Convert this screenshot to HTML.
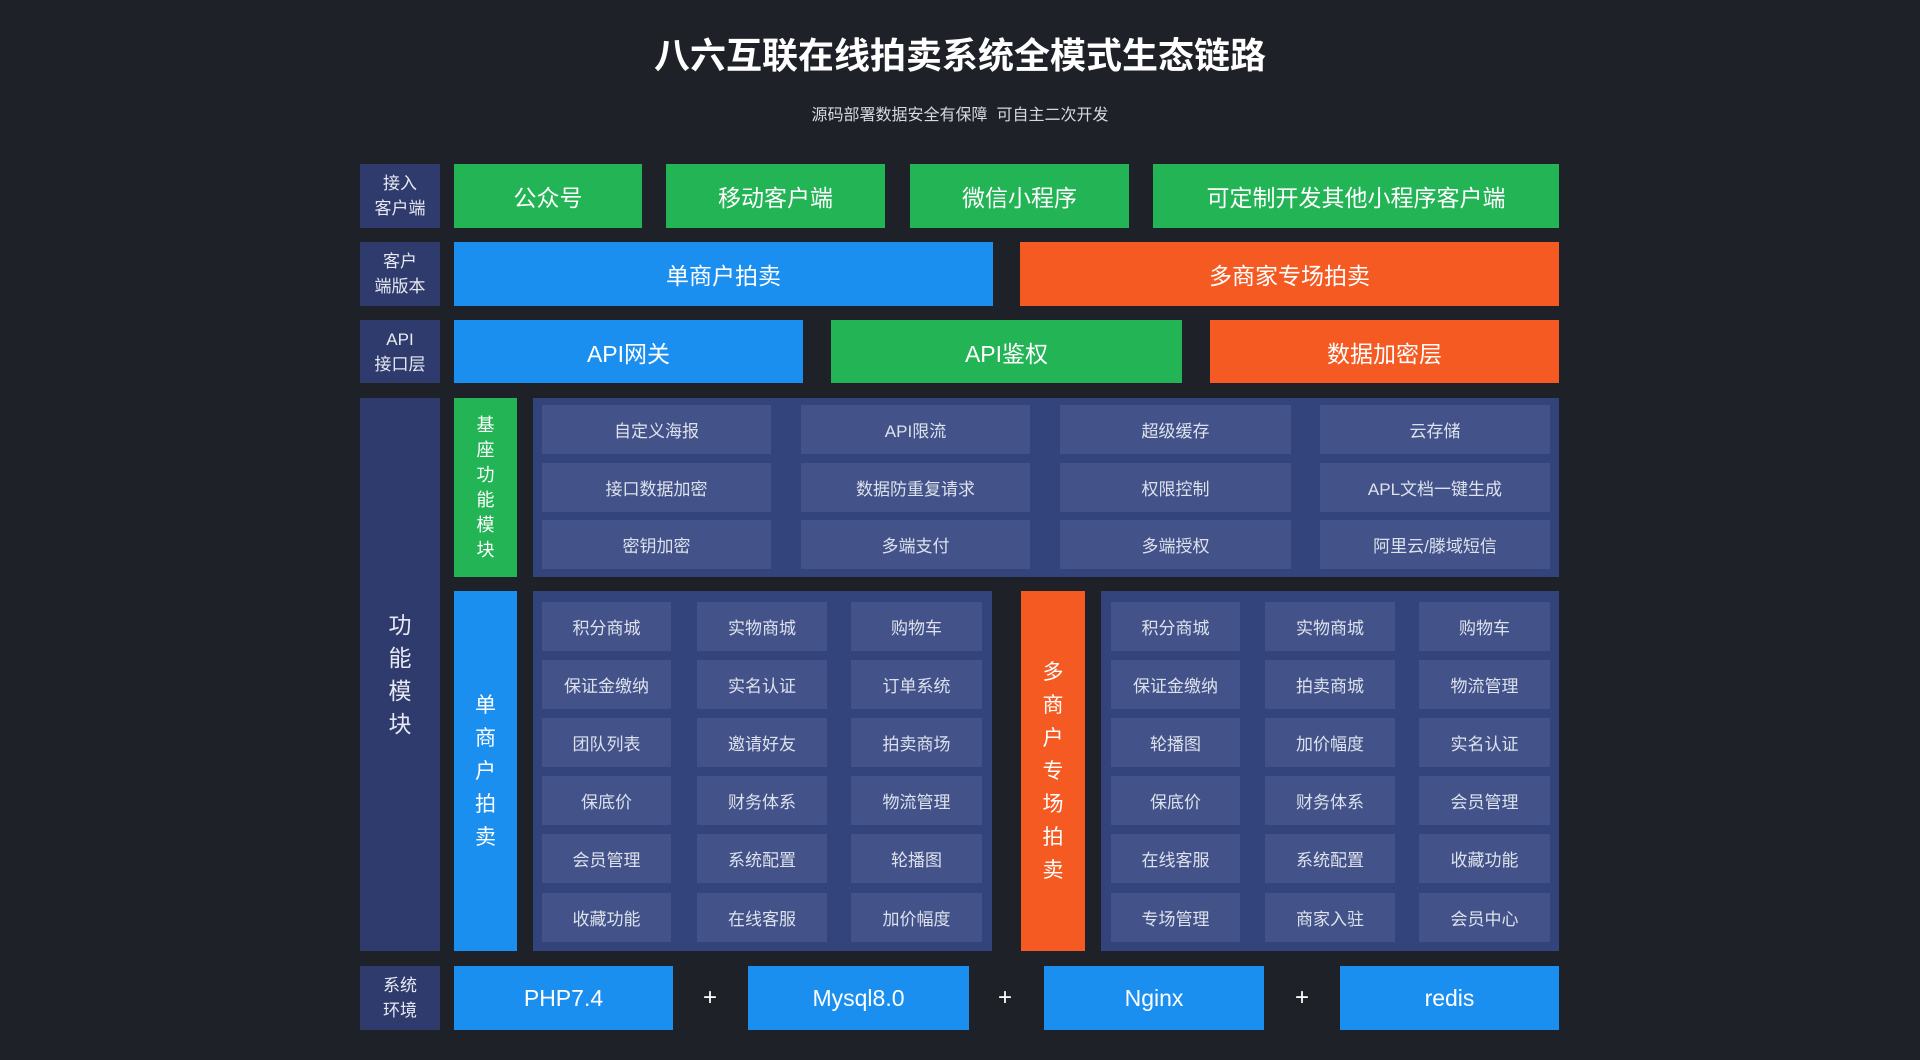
<!DOCTYPE html>
<html><head><meta charset="utf-8"><style>
body{margin:0;width:1920px;height:1060px;background:#1f2128;font-family:"Liberation Sans","Noto Sans CJK SC",sans-serif;position:relative;overflow:hidden}
.a{position:absolute;display:flex;align-items:center;justify-content:center;text-align:center;color:#fff;box-sizing:border-box}
.lb{background:#2e3b6c;color:#e6e9f2;font-size:17px;line-height:25px}
.g{background:#22b455;font-size:23px}
.b{background:#1a8ff0;font-size:23px}
.o{background:#f55a22;font-size:23px}
.p{background:#33437c}
.c{background:#43538a;color:#dde1ec;font-size:17px}
.v{font-size:21px;line-height:33px;flex-direction:column}
.plus{color:#fff;font-size:24px}
</style></head><body>
<div class="a" style="left:0;top:30px;width:1920px;height:46px;font-size:36px;font-weight:bold">八六互联在线拍卖系统全模式生态链路</div>
<div class="a" style="left:0;top:102px;width:1920px;height:22px;font-size:16px;color:#d6d9e0">源码部署数据安全有保障&nbsp;&nbsp;可自主二次开发</div>

<div class="a lb" style="left:360px;top:164px;width:80px;height:64px">接入<br>客户端</div>
<div class="a lb" style="left:360px;top:242px;width:80px;height:64px">客户<br>端版本</div>
<div class="a lb" style="left:360px;top:320px;width:80px;height:63px">API<br>接口层</div>
<div class="a lb" style="left:360px;top:398px;width:80px;height:553px;font-size:23px;line-height:33px">功<br>能<br>模<br>块</div>
<div class="a lb" style="left:360px;top:966px;width:80px;height:64px">系统<br>环境</div>

<div class="a g" style="left:454px;top:164px;width:188px;height:64px">公众号</div>
<div class="a g" style="left:666px;top:164px;width:219px;height:64px">移动客户端</div>
<div class="a g" style="left:910px;top:164px;width:219px;height:64px">微信小程序</div>
<div class="a g" style="left:1153px;top:164px;width:406px;height:64px">可定制开发其他小程序客户端</div>

<div class="a b" style="left:454px;top:242px;width:539px;height:64px">单商户拍卖</div>
<div class="a o" style="left:1020px;top:242px;width:539px;height:64px">多商家专场拍卖</div>

<div class="a b" style="left:454px;top:320px;width:349px;height:63px">API网关</div>
<div class="a g" style="left:831px;top:320px;width:351px;height:63px">API鉴权</div>
<div class="a o" style="left:1210px;top:320px;width:349px;height:63px">数据加密层</div>

<div class="a g v" style="left:454px;top:398px;width:63px;height:179px;font-size:18px;line-height:25px">基<br>座<br>功<br>能<br>模<br>块</div>
<div class="a p" style="left:533px;top:398px;width:1026px;height:179px"></div>
<div class="a c" style="left:542px;top:405px;width:229px;height:49px">自定义海报</div>
<div class="a c" style="left:801px;top:405px;width:229px;height:49px">API限流</div>
<div class="a c" style="left:1060px;top:405px;width:231px;height:49px">超级缓存</div>
<div class="a c" style="left:1320px;top:405px;width:230px;height:49px">云存储</div>
<div class="a c" style="left:542px;top:463px;width:229px;height:49px">接口数据加密</div>
<div class="a c" style="left:801px;top:463px;width:229px;height:49px">数据防重复请求</div>
<div class="a c" style="left:1060px;top:463px;width:231px;height:49px">权限控制</div>
<div class="a c" style="left:1320px;top:463px;width:230px;height:49px">APL文档一键生成</div>
<div class="a c" style="left:542px;top:520px;width:229px;height:49px">密钥加密</div>
<div class="a c" style="left:801px;top:520px;width:229px;height:49px">多端支付</div>
<div class="a c" style="left:1060px;top:520px;width:231px;height:49px">多端授权</div>
<div class="a c" style="left:1320px;top:520px;width:230px;height:49px">阿里云/滕域短信</div>

<div class="a b v" style="left:454px;top:591px;width:63px;height:360px">单<br>商<br>户<br>拍<br>卖</div>
<div class="a p" style="left:533px;top:591px;width:459px;height:360px"></div>
<div class="a o v" style="left:1021px;top:591px;width:64px;height:360px">多<br>商<br>户<br>专<br>场<br>拍<br>卖</div>
<div class="a p" style="left:1101px;top:591px;width:458px;height:360px"></div>

<div class="a c" style="left:542px;top:602px;width:129px;height:49px">积分商城</div>
<div class="a c" style="left:697px;top:602px;width:130px;height:49px">实物商城</div>
<div class="a c" style="left:851px;top:602px;width:131px;height:49px">购物车</div>
<div class="a c" style="left:542px;top:660px;width:129px;height:49px">保证金缴纳</div>
<div class="a c" style="left:697px;top:660px;width:130px;height:49px">实名认证</div>
<div class="a c" style="left:851px;top:660px;width:131px;height:49px">订单系统</div>
<div class="a c" style="left:542px;top:718px;width:129px;height:49px">团队列表</div>
<div class="a c" style="left:697px;top:718px;width:130px;height:49px">邀请好友</div>
<div class="a c" style="left:851px;top:718px;width:131px;height:49px">拍卖商场</div>
<div class="a c" style="left:542px;top:776px;width:129px;height:49px">保底价</div>
<div class="a c" style="left:697px;top:776px;width:130px;height:49px">财务体系</div>
<div class="a c" style="left:851px;top:776px;width:131px;height:49px">物流管理</div>
<div class="a c" style="left:542px;top:834px;width:129px;height:49px">会员管理</div>
<div class="a c" style="left:697px;top:834px;width:130px;height:49px">系统配置</div>
<div class="a c" style="left:851px;top:834px;width:131px;height:49px">轮播图</div>
<div class="a c" style="left:542px;top:893px;width:129px;height:49px">收藏功能</div>
<div class="a c" style="left:697px;top:893px;width:130px;height:49px">在线客服</div>
<div class="a c" style="left:851px;top:893px;width:131px;height:49px">加价幅度</div>

<div class="a c" style="left:1111px;top:602px;width:129px;height:49px">积分商城</div>
<div class="a c" style="left:1265px;top:602px;width:130px;height:49px">实物商城</div>
<div class="a c" style="left:1419px;top:602px;width:131px;height:49px">购物车</div>
<div class="a c" style="left:1111px;top:660px;width:129px;height:49px">保证金缴纳</div>
<div class="a c" style="left:1265px;top:660px;width:130px;height:49px">拍卖商城</div>
<div class="a c" style="left:1419px;top:660px;width:131px;height:49px">物流管理</div>
<div class="a c" style="left:1111px;top:718px;width:129px;height:49px">轮播图</div>
<div class="a c" style="left:1265px;top:718px;width:130px;height:49px">加价幅度</div>
<div class="a c" style="left:1419px;top:718px;width:131px;height:49px">实名认证</div>
<div class="a c" style="left:1111px;top:776px;width:129px;height:49px">保底价</div>
<div class="a c" style="left:1265px;top:776px;width:130px;height:49px">财务体系</div>
<div class="a c" style="left:1419px;top:776px;width:131px;height:49px">会员管理</div>
<div class="a c" style="left:1111px;top:834px;width:129px;height:49px">在线客服</div>
<div class="a c" style="left:1265px;top:834px;width:130px;height:49px">系统配置</div>
<div class="a c" style="left:1419px;top:834px;width:131px;height:49px">收藏功能</div>
<div class="a c" style="left:1111px;top:893px;width:129px;height:49px">专场管理</div>
<div class="a c" style="left:1265px;top:893px;width:130px;height:49px">商家入驻</div>
<div class="a c" style="left:1419px;top:893px;width:131px;height:49px">会员中心</div>

<div class="a b" style="left:454px;top:966px;width:219px;height:64px">PHP7.4</div>
<div class="a plus" style="left:690px;top:980px;width:40px;height:36px">+</div>
<div class="a b" style="left:748px;top:966px;width:221px;height:64px">Mysql8.0</div>
<div class="a plus" style="left:985px;top:980px;width:40px;height:36px">+</div>
<div class="a b" style="left:1044px;top:966px;width:220px;height:64px">Nginx</div>
<div class="a plus" style="left:1282px;top:980px;width:40px;height:36px">+</div>
<div class="a b" style="left:1340px;top:966px;width:219px;height:64px">redis</div>
</body></html>
